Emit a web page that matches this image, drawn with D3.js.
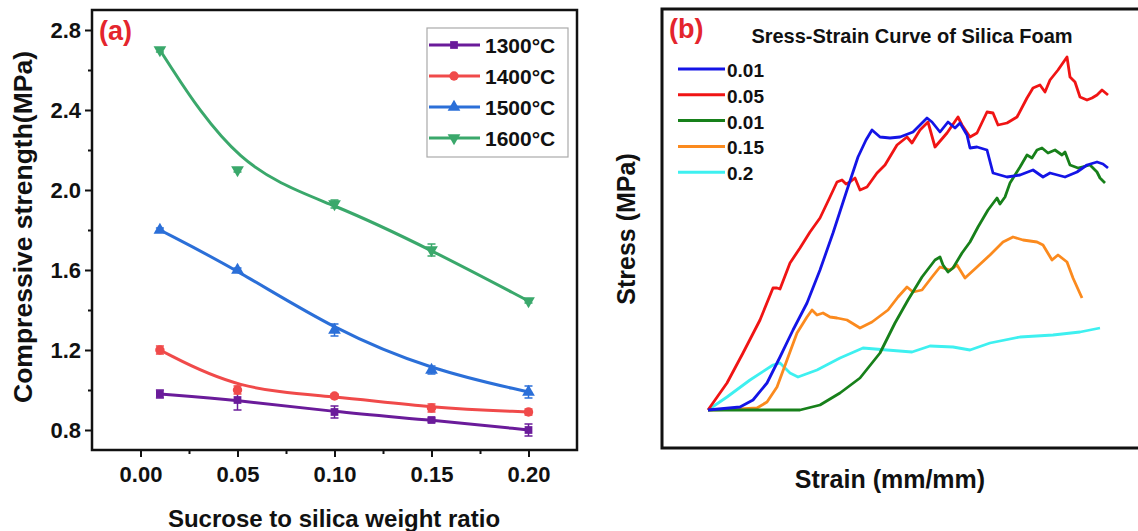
<!DOCTYPE html>
<html>
<head>
<meta charset="utf-8">
<script src="https://cdn.jsdelivr.net/npm/d3@7"></script>
<style>
  html, body { margin: 0; padding: 0; background: #fff; }
  text { font-family: "Liberation Sans", Arial, sans-serif; font-weight: bold; }
</style>
</head>
<body>
<div id="chart"></div>
<script>
const W = 1138
const H = 531

// ---- panel (a): compressive strength vs sucrose ratio
const ratios = [0.01, 0.05, 0.10, 0.15, 0.20]
const tempLabels = ['1300°C', '1400°C', '1500°C', '1600°C']
const s1300 = [0.98, 0.95, 0.89, 0.85, 0.80]
const s1400 = [1.20, 1.00, 0.97, 0.91, 0.89]
const s1500 = [1.80, 1.60, 1.30, 1.10, 0.99]
const s1600 = [2.70, 2.10, 1.93, 1.70, 1.445]
const e1300 = [0.02, 0.05, 0.03, 0.01, 0.03]
const e1400 = [0.02, 0.02, 0.01, 0.02, 0.015]
const e1500 = [0.01, 0.01, 0.03, 0.02, 0.03]
const e1600 = [0.01, 0.01, 0.02, 0.03, 0.01]
const xTicksA = [0, 0.05, 0.10, 0.15, 0.20]
const yTicksA = [0.8, 1.2, 1.6, 2.0, 2.4, 2.8]

// ---- panel (b): stress-strain curves, [strain, stress]
const curveLabels = ['0.01', '0.05', '0.01', '0.15', '0.2']
const c001 = [[0,0],[.032,.03],[.045,.10],[.059,.27],[.072,.53],[.085,.80],[.099,1.07],[.112,1.40],[.125,1.77],[.139,2.20],[.150,2.53],[.158,2.70],[.164,2.80],[.172,2.73],[.182,2.72],[.192,2.73],[.205,2.78],[.219,2.92],[.224,2.88],[.232,2.78],[.240,2.88],[.247,2.82],[.252,2.87],[.259,2.75],[.262,2.62],[.269,2.63],[.279,2.60],[.285,2.37],[.299,2.33],[.312,2.35],[.325,2.40],[.335,2.33],[.342,2.37],[.357,2.33],[.369,2.38],[.379,2.45],[.389,2.48],[.395,2.46],[.400,2.42]]
const c005 = [[0,0],[.019,.27],[.035,.57],[.052,.90],[.065,1.22],[.069,1.22],[.072,1.21],[.082,1.47],[.092,1.62],[.102,1.78],[.112,1.92],[.122,2.13],[.129,2.28],[.134,2.30],[.138,2.26],[.142,2.28],[.147,2.32],[.152,2.20],[.159,2.23],[.169,2.37],[.177,2.45],[.189,2.65],[.199,2.73],[.204,2.67],[.212,2.80],[.220,2.88],[.227,2.63],[.239,2.77],[.250,2.93],[.254,2.85],[.262,2.73],[.269,2.77],[.279,2.98],[.285,2.97],[.290,2.85],[.299,2.87],[.309,2.93],[.319,3.12],[.325,3.22],[.332,3.25],[.337,3.18],[.342,3.30],[.350,3.40],[.359,3.53],[.362,3.33],[.367,3.28],[.372,3.13],[.379,3.10],[.384,3.12],[.389,3.15],[.394,3.20],[.400,3.15]]
const c001b = [[0,0],[.032,0],[.072,0],[.092,0],[.112,.05],[.132,.17],[.152,.32],[.172,.57],[.187,.87],[.200,1.10],[.214,1.33],[.227,1.50],[.232,1.53],[.235,1.45],[.240,1.38],[.245,1.42],[.254,1.57],[.262,1.68],[.270,1.83],[.280,2.00],[.289,2.12],[.292,2.06],[.297,2.13],[.302,2.27],[.312,2.43],[.319,2.55],[.324,2.52],[.329,2.60],[.334,2.62],[.340,2.57],[.347,2.60],[.354,2.55],[.357,2.58],[.362,2.45],[.370,2.42],[.382,2.45],[.389,2.38],[.392,2.32],[.397,2.27]]
const c015 = [[0,0],[.032,.01],[.049,.02],[.059,.08],[.069,.23],[.079,.50],[.089,.77],[.099,.93],[.104,1.00],[.109,.95],[.115,.97],[.122,.93],[.129,.92],[.139,.90],[.152,.82],[.164,.88],[.180,1.00],[.190,1.13],[.199,1.23],[.205,1.18],[.214,1.20],[.224,1.33],[.232,1.43],[.242,1.40],[.249,1.45],[.257,1.32],[.269,1.43],[.282,1.55],[.295,1.68],[.305,1.73],[.315,1.70],[.329,1.68],[.335,1.65],[.344,1.50],[.350,1.55],[.359,1.48],[.365,1.32],[.374,1.12]]
const c02 = [[0,0],[.019,.13],[.042,.30],[.065,.45],[.072,.47],[.082,.37],[.090,.33],[.109,.40],[.132,.52],[.155,.62],[.179,.60],[.204,.58],[.222,.64],[.245,.63],[.262,.60],[.282,.67],[.312,.73],[.345,.75],[.372,.78],[.392,.82]]

const svg = d3.select('#chart').append('svg')
  .attr('width', W)
  .attr('height', H)
  .style('background', '#fff')

function drawPanelA () {
  const left = 92, right = 577, top = 10, bottom = 450
  const x = d3.scaleLinear().domain([-0.025, 0.225]).range([left, right])
  const y = d3.scaleLinear().domain([0.7, 2.9]).range([bottom, top])
  const g = svg.append('g')

  const series = [
    { vals: s1300, err: e1300, color: '#6a1b9a', sym: d3.symbolSquare, rot: 0, size: 60 },
    { vals: s1400, err: e1400, color: '#f04a4a', sym: d3.symbolCircle, rot: 0, size: 70 },
    { vals: s1500, err: e1500, color: '#2b6fd8', sym: d3.symbolTriangle, rot: 0, size: 70 },
    { vals: s1600, err: e1600, color: '#3aa86b', sym: d3.symbolTriangle, rot: 180, size: 70 }
  ]

  const line = d3.line()
    .x(d => x(d[0]))
    .y(d => y(d[1]))
    .curve(d3.curveBasis)

  series.forEach(s => {
    const pts = ratios.map((r, i) => [r, s.vals[i], s.err[i]])
    g.append('path')
      .attr('d', line(pts))
      .attr('fill', 'none')
      .attr('stroke', s.color)
      .attr('stroke-width', 3)

    // error bars
    const eb = g.selectAll(null).data(pts).enter().append('g')
      .attr('stroke', s.color).attr('stroke-width', 1.5)
    eb.append('line')
      .attr('x1', d => x(d[0])).attr('x2', d => x(d[0]))
      .attr('y1', d => y(d[1] - d[2])).attr('y2', d => y(d[1] + d[2]))
    eb.append('line')
      .attr('x1', d => x(d[0]) - 4).attr('x2', d => x(d[0]) + 4)
      .attr('y1', d => y(d[1] - d[2])).attr('y2', d => y(d[1] - d[2]))
    eb.append('line')
      .attr('x1', d => x(d[0]) - 4).attr('x2', d => x(d[0]) + 4)
      .attr('y1', d => y(d[1] + d[2])).attr('y2', d => y(d[1] + d[2]))

    g.selectAll(null).data(pts).enter().append('path')
      .attr('d', d3.symbol().type(s.sym).size(s.size))
      .attr('transform', d => `translate(${x(d[0])},${y(d[1])}) rotate(${s.rot})`)
      .attr('fill', s.color)
  })

  // axes
  const xAxis = d3.axisBottom(x).tickValues(xTicksA).tickFormat(d3.format('.2f'))
    .tickSize(7).tickPadding(9)
  const gx = g.append('g').attr('transform', `translate(0,${bottom})`).call(xAxis)
  gx.select('.domain').remove()
  gx.selectAll('line').attr('stroke', '#111').attr('stroke-width', 2)
  gx.selectAll('text').attr('font-size', 22).attr('fill', '#111')
    .style('font-family', '"Liberation Sans", Arial, sans-serif').style('font-weight', 'bold')

  const xMinor = d3.axisBottom(x).tickValues(d3.range(0.025, 0.2, 0.05)).tickSize(4).tickFormat('')
  const gxm = g.append('g').attr('transform', `translate(0,${bottom})`).call(xMinor)
  gxm.select('.domain').remove()
  gxm.selectAll('line').attr('stroke', '#111').attr('stroke-width', 2)

  const yAxis = d3.axisLeft(y).tickValues(yTicksA).tickFormat(d3.format('.1f'))
    .tickSize(7).tickPadding(4)
  const gy = g.append('g').attr('transform', `translate(${left},0)`).call(yAxis)
  gy.select('.domain').remove()
  gy.selectAll('line').attr('stroke', '#111').attr('stroke-width', 2)
  gy.selectAll('text').attr('font-size', 22).attr('fill', '#111')
    .style('font-family', '"Liberation Sans", Arial, sans-serif').style('font-weight', 'bold')

  const yMinor = d3.axisLeft(y).tickValues([1.0, 1.4, 1.8, 2.2, 2.6]).tickSize(4).tickFormat('')
  const gym = g.append('g').attr('transform', `translate(${left},0)`).call(yMinor)
  gym.select('.domain').remove()
  gym.selectAll('line').attr('stroke', '#111').attr('stroke-width', 2)

  // frame
  g.append('rect')
    .attr('x', left).attr('y', top)
    .attr('width', right - left).attr('height', bottom - top)
    .attr('fill', 'none').attr('stroke', '#111').attr('stroke-width', 2.5)

  g.append('text').text('(a)')
    .attr('x', 99).attr('y', 40)
    .attr('font-size', 27).attr('fill', '#e4252d')

  g.append('text').text('Compressive strength(MPa)')
    .attr('transform', 'translate(32,227) rotate(-90)')
    .attr('text-anchor', 'middle')
    .attr('font-size', 26.5).attr('fill', '#111')

  g.append('text').text('Sucrose to silica weight ratio')
    .attr('x', 334).attr('y', 527)
    .attr('text-anchor', 'middle')
    .attr('font-size', 24).attr('fill', '#111')

  // legend
  const lg = g.append('g')
  lg.append('rect')
    .attr('x', 427).attr('y', 28).attr('width', 141).attr('height', 129)
    .attr('fill', '#fff').attr('stroke', '#aaa').attr('stroke-width', 1.2)
  series.forEach((s, i) => {
    const ly = 45 + i * 31
    lg.append('line')
      .attr('x1', 429).attr('x2', 480).attr('y1', ly).attr('y2', ly)
      .attr('stroke', s.color).attr('stroke-width', 3)
    lg.append('path')
      .attr('d', d3.symbol().type(s.sym).size(s.size)())
      .attr('transform', `translate(454,${ly}) rotate(${s.rot})`)
      .attr('fill', s.color)
    lg.append('text').text(tempLabels[i])
      .attr('x', 485).attr('y', ly + 8)
      .attr('font-size', 21).attr('fill', '#111')
  })
}

function drawPanelB () {
  const left = 662, right = 1141, top = 9, bottom = 448
  const x = d3.scaleLinear().domain([0, 0.4]).range([708, 1108])
  const y = d3.scaleLinear().domain([0, 3.5]).range([410, 60])
  const g = svg.append('g')

  const curves = [
    { pts: c001, color: '#1414e6' },
    { pts: c005, color: '#f01414' },
    { pts: c001b, color: '#17801a' },
    { pts: c015, color: '#fb8a1e' },
    { pts: c02, color: '#3ef0f0' }
  ]

  const line = d3.line().x(d => x(d[0])).y(d => y(d[1]))

  // draw back to front so blue/red sit on top
  curves.slice().reverse().forEach(c => {
    g.append('path')
      .attr('d', line(c.pts))
      .attr('fill', 'none')
      .attr('stroke', c.color)
      .attr('stroke-width', 2.8)
      .attr('stroke-linejoin', 'round')
  })

  g.append('rect')
    .attr('x', left).attr('y', top)
    .attr('width', right - left).attr('height', bottom - top)
    .attr('fill', 'none').attr('stroke', '#111').attr('stroke-width', 3)

  g.append('text').text('(b)')
    .attr('x', 669).attr('y', 38)
    .attr('font-size', 27).attr('fill', '#e4252d')

  g.append('text').text('Sress-Strain Curve of Silica Foam')
    .attr('x', 912).attr('y', 43)
    .attr('text-anchor', 'middle')
    .attr('font-size', 20).attr('fill', '#111')

  curves.forEach((c, i) => {
    const by = 77 + i * 25.8
    g.append('line')
      .attr('x1', 678).attr('x2', 725).attr('y1', by - 8).attr('y2', by - 8)
      .attr('stroke', c.color).attr('stroke-width', 3)
    g.append('text').text(curveLabels[i])
      .attr('x', 727).attr('y', by)
      .attr('font-size', 19).attr('fill', '#111')
  })

  g.append('text').text('Stress (MPa)')
    .attr('transform', 'translate(635,229) rotate(-90)')
    .attr('text-anchor', 'middle')
    .attr('font-size', 25).attr('fill', '#111')

  g.append('text').text('Strain (mm/mm)')
    .attr('x', 890).attr('y', 488)
    .attr('text-anchor', 'middle')
    .attr('font-size', 25).attr('fill', '#111')
}

drawPanelA()
drawPanelB()
</script>
</body>
</html>
